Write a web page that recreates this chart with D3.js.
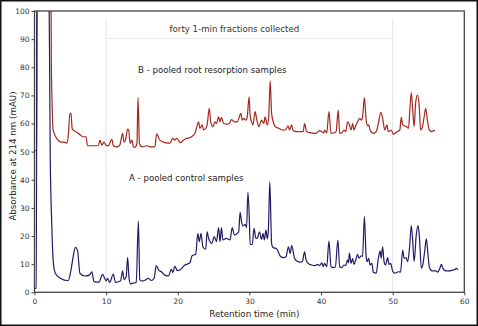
<!DOCTYPE html>
<html><head><meta charset="utf-8">
<script src="https://cdn.jsdelivr.net/npm/d3@7"></script>
<style>body{margin:0;background:#fff}svg{display:block}text{font-family:"DejaVu Sans",sans-serif}</style>
</head><body>
<svg id="c" width="478" height="326"></svg>
<script>
const xTicks=[0,10,20,30,40,50,60];
const yTicks=[0,10,20,30,40,50,60,70,80,90,100];
const seriesLabels=["A - pooled control samples","B - pooled root resorption samples"];
const annotation="forty 1-min fractions collected";
const fractionWindow=[10,50];
// A - pooled control samples: [retention time (min), absorbance (mAU)]
const seriesA=[[0,1.4],[0.25,1.5],[0.35,130],[1.95,130],[2.2,47],[2.4,25],[2.6,11.5],[2.9,6.8],[3.6,5],[4.7,4.1],[5.1,8],[5.4,12.7],[5.7,16],[6.0,15],[6.35,6.7],[7.05,5.8],[7.7,6.2],[8.0,7.3],[8.3,3.8],[9.0,3.6],[9.5,6.4],[9.8,5],[10.0,4],[10.2,5],[10.5,3.5],[11.0,6.5],[11.3,3.5],[12.0,4],[12.3,7.6],[12.5,4.5],[12.8,5.5],[13.0,12.4],[13.2,5],[13.4,3],[13.8,3.3],[14.2,3.5],[14.5,25.3],[14.7,4.5],[15.0,4],[15.5,4.4],[15.9,5],[16.3,4.2],[16.7,5],[17.0,9.5],[17.3,8],[17.7,7.3],[18.2,6.1],[18.7,5.8],[19.1,8.2],[19.3,7],[19.6,9.3],[19.9,7.8],[20.2,7.8],[21.0,9.7],[21.7,10.5],[22.0,13],[22.5,13.5],[22.8,21],[23.0,18],[23.25,21],[23.5,16.2],[23.9,15.3],[24.1,21.5],[24.3,19.2],[24.75,17.4],[25.1,19.8],[25.4,18],[25.7,23],[25.9,18],[26.1,23],[26.3,18.6],[26.8,19.2],[27.3,18.6],[27.6,23],[27.9,20.4],[28.5,21.5],[28.7,28.4],[28.9,25.1],[29.1,23.6],[29.4,24.2],[29.6,23],[29.8,35.5],[30.0,25],[30.1,17],[30.4,17],[30.65,22.7],[30.9,19.2],[31.1,19.2],[31.4,21.5],[31.7,18.8],[31.9,21],[32.1,18.6],[32.3,22.1],[32.5,19],[32.65,22.1],[32.85,39.3],[33.1,17.4],[33.3,15.9],[33.8,15.5],[34.3,12.9],[34.75,12.3],[35.1,12.6],[35.45,16.2],[35.7,13.8],[35.9,16.6],[36.3,12.1],[36.6,11.1],[37.1,10.7],[37.4,11],[37.7,14.4],[37.9,11.6],[38.2,10.3],[38.7,9.7],[39.2,9.5],[39.5,9.9],[39.8,9.5],[40.1,10.5],[40.3,9.1],[40.5,10.3],[40.8,9.1],[41.1,18.2],[41.4,9.1],[41.7,8.8],[42.0,9],[42.35,18.6],[42.6,9.1],[42.9,8.8],[43.2,9.7],[43.45,9.5],[43.7,11.5],[43.85,10.5],[43.95,13.9],[44.2,10.3],[44.4,12.1],[44.6,9.9],[44.85,11.5],[45.1,13.5],[45.3,12.1],[45.6,13],[45.8,12.7],[46.05,26.9],[46.3,12.7],[46.45,10.9],[46.65,12.1],[46.85,9.7],[47.1,10.3],[47.3,7.1],[47.7,6.8],[48.0,12.1],[48.25,14.7],[48.4,12.1],[48.6,16.2],[48.8,10.9],[49.0,9.7],[49.3,12.3],[49.5,9.9],[49.7,10.3],[50.0,7.6],[50.3,6.8],[50.8,7.3],[51.1,7.2],[51.4,15],[51.6,12.1],[51.85,12.3],[52.1,10.9],[52.35,15.7],[52.6,23.7],[52.8,18],[53.0,10.9],[53.3,20.6],[53.55,23.7],[53.75,19],[54.0,8.6],[54.2,9.7],[54.45,14.2],[54.7,19],[54.9,14.2],[55.15,8.6],[55.5,7.6],[56.0,7.6],[56.3,7.2],[56.6,8.6],[56.8,9.9],[57.0,8.6],[57.4,7.6],[57.9,7.6],[58.4,7.9],[58.7,8.1],[58.9,8.5],[59.1,7.9]];
// B - pooled root resorption samples
const seriesB=[[0,50.3],[0.3,50.5],[0.4,130],[2.25,130],[2.35,82],[2.45,68],[2.6,57.7],[3.1,54.7],[3.6,53.5],[4.3,53.3],[4.5,53],[4.7,55.3],[4.95,63.6],[5.1,63.6],[5.25,58.3],[5.4,57.7],[5.9,56.9],[6.4,55.9],[6.8,55.3],[7.2,55.3],[7.4,52.1],[8.2,52.1],[8.9,52.1],[9.15,54.1],[9.4,52.3],[9.7,53.4],[10.0,52.3],[10.3,52.1],[10.8,54.4],[11.0,52.1],[11.5,51.7],[11.9,52.3],[12.3,56.5],[12.5,53.4],[12.7,54.1],[13.0,58],[13.15,57.7],[13.35,52.9],[13.6,54.1],[13.8,51.7],[14.0,51.5],[14.3,52.9],[14.45,69.2],[14.65,52.9],[15.0,51.7],[15.7,52.1],[16.1,51.7],[16.8,51.7],[17.05,56.3],[17.5,54.1],[18.2,53.2],[18.9,53],[19.3,54.7],[19.6,54.1],[19.8,54.7],[20.1,54.1],[20.3,53.2],[20.8,54.1],[21.2,54.7],[21.7,55],[22.2,55.9],[22.4,56.5],[22.6,58.3],[22.9,60.6],[23.1,58.3],[23.4,59.5],[23.6,57.7],[23.9,58.3],[24.1,59.5],[24.4,65.4],[24.6,60.6],[24.9,58.9],[25.2,60.6],[25.4,60],[25.7,62.4],[25.9,60.6],[26.1,62.2],[26.4,60],[26.8,59.8],[27.2,60],[27.5,61.4],[27.9,60.6],[28.3,60.6],[28.6,62.4],[28.8,63.6],[29.0,61.2],[29.2,61.8],[29.5,61.2],[29.7,62.4],[29.95,69.5],[30.1,63],[30.3,60.6],[30.5,59.5],[30.8,64.2],[31.0,61.8],[31.3,58.9],[31.5,60],[31.7,61.2],[32.0,60],[32.2,62.4],[32.5,59.5],[32.7,62.4],[32.9,75.2],[33.1,63.6],[33.4,60],[33.6,58.9],[34.1,58.3],[34.6,57.7],[35.0,57.7],[35.4,59.2],[35.6,57.7],[35.9,59.5],[36.1,57.5],[36.6,57.1],[37.1,57.1],[37.5,57.1],[37.7,60],[38.0,57.1],[38.6,56.7],[39.3,56.5],[39.8,57.5],[40.1,57.1],[40.4,56.7],[40.5,57.7],[40.8,56.7],[41.1,64.2],[41.4,56.5],[41.8,56.7],[42.1,57.1],[42.4,64.8],[42.6,56.5],[42.9,56.7],[43.2,57.7],[43.45,57.1],[43.7,60.6],[43.9,60],[44.2,57.7],[44.4,60],[44.6,57.7],[44.8,58.9],[45.1,60.6],[45.4,61.8],[45.6,61.2],[45.8,62.4],[46.05,69.2],[46.3,61.2],[46.5,59.2],[46.65,59.5],[46.85,57.7],[47.3,56.5],[47.7,57.1],[48.0,60],[48.35,64],[48.6,61.8],[48.9,57.7],[49.2,59.5],[49.4,57.1],[49.8,57.7],[50.1,56.2],[50.6,57.1],[51.0,57.7],[51.2,62.2],[51.4,59.5],[51.9,58.9],[52.2,58.3],[52.4,64.8],[52.6,71],[52.8,64.8],[53.0,58.9],[53.2,67.1],[53.45,70.1],[53.7,66.5],[53.9,57.7],[54.1,58.3],[54.4,62.4],[54.6,65.4],[54.85,61.2],[55.15,57.5],[55.5,57.1],[55.7,57.5],[55.9,57.5]];

const svg=d3.select("#c");
const W=478,H=326;
const L=34.5,R=464.3,T=11,B=292.3;
const x=d3.scaleLinear().domain([0,60]).range([L,R]);
const y=d3.scaleLinear().domain([0,100]).range([B,T]);

svg.append("rect").attr("x",0.75).attr("y",0.75).attr("width",W-1.5).attr("height",H-1.5)
  .attr("fill","#fff").attr("stroke","#111").attr("stroke-width",1.5);

// fraction window guides
const g=svg.append("g");
fractionWindow.forEach(t=>{
  g.append("line").attr("x1",x(t)).attr("x2",x(t)).attr("y1",19).attr("y2",B)
   .attr("stroke","#e4e4e4").attr("stroke-width",1);
});
g.append("line").attr("x1",x(fractionWindow[0])).attr("x2",x(fractionWindow[1])).attr("y1",38.5).attr("y2",38.5)
  .attr("stroke","#ececec").attr("stroke-width",1);
svg.append("text").attr("x",(x(fractionWindow[0])+x(fractionWindow[1]))/2-15).attr("y",31.5)
  .attr("text-anchor","middle").attr("font-size",8.6).attr("fill","#333").text(annotation);

svg.append("defs").append("clipPath").attr("id","clip").append("rect")
  .attr("x",L).attr("y",T).attr("width",R-L).attr("height",B-T);

const line=d3.line().x(d=>x(d[0])).y(d=>y(d[1])).curve(d3.curveMonotoneX);
svg.append("path").datum(seriesB).attr("d",line).attr("fill","none")
  .attr("stroke","#a3281d").attr("stroke-width",1.2).attr("clip-path","url(#clip)");
svg.append("path").datum(seriesA).attr("d",line).attr("fill","none")
  .attr("stroke","#221a63").attr("stroke-width",1.2).attr("clip-path","url(#clip)");

// frame
svg.append("rect").attr("x",L).attr("y",T).attr("width",R-L).attr("height",B-T)
  .attr("fill","none").attr("stroke","#444").attr("stroke-width",1.3);

const xa=svg.append("g").attr("transform",`translate(0,${B})`)
  .call(d3.axisBottom(x).tickValues(xTicks).tickSize(3).tickPadding(3).tickFormat(d3.format("d")));
const ya=svg.append("g").attr("transform",`translate(${L},0)`)
  .call(d3.axisLeft(y).tickValues(yTicks).tickSize(3).tickPadding(2).tickFormat(d3.format("d")));
[xa,ya].forEach(a=>{
  a.select(".domain").remove();
  a.selectAll("line").attr("stroke","#444");
  a.selectAll("text").attr("font-size",7.5).attr("fill","#333").attr("font-family","DejaVu Sans");
});

svg.append("text").attr("x",(L+R)/2+5).attr("y",317).attr("text-anchor","middle")
  .attr("font-size",8.7).attr("fill","#222").text("Retention time (min)");
svg.append("text").attr("transform",`translate(16,156) rotate(-90)`).attr("text-anchor","middle")
  .attr("font-size",8.7).attr("fill","#222").text("Absorbance at 214 nm (mAU)");

svg.append("text").attr("x",138).attr("y",72.5).attr("font-size",8.6).attr("fill","#222").text(seriesLabels[1]);
svg.append("text").attr("x",129).attr("y",180.5).attr("font-size",8.6).attr("fill","#222").text(seriesLabels[0]);
</script>
</body></html>
